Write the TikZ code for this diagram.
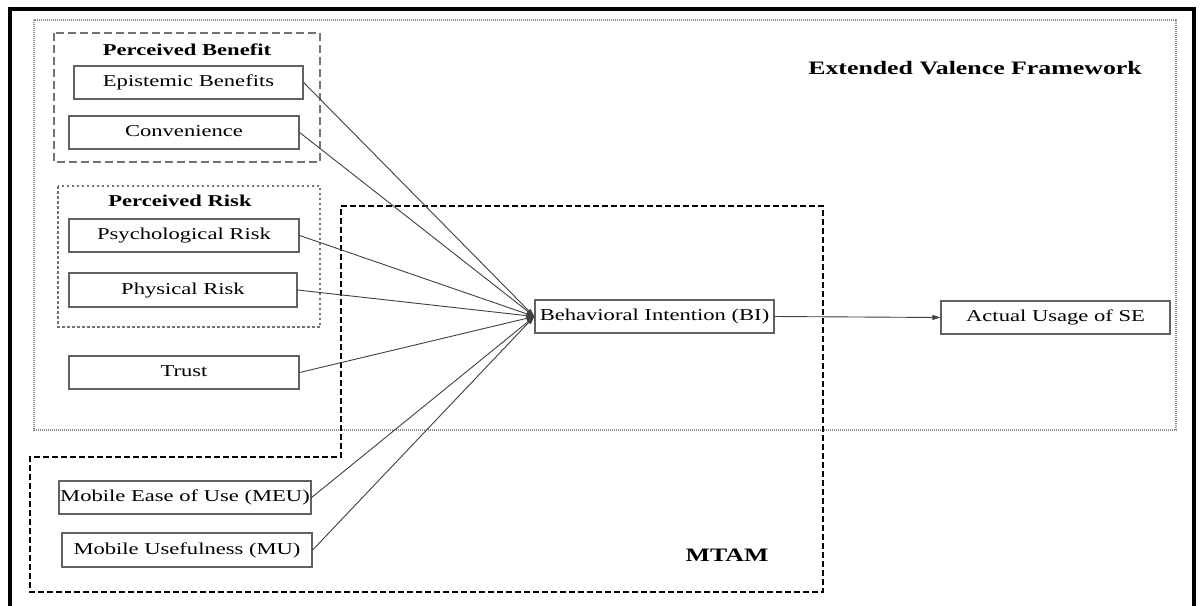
\documentclass[tikz,border=0pt]{standalone}
\usepackage{fontspec}
\setmainfont{Liberation Serif}[FakeStretch=1.36]
\usetikzlibrary{arrows.meta}
\definecolor{boxgray}{gray}{0.38}
\definecolor{linegray}{gray}{0.25}
\definecolor{dashgray}{gray}{0.45}
\definecolor{dotgray}{gray}{0.55}
\tikzset{
  varbox/.style={draw=boxgray, line width=1.3pt, inner sep=0pt, minimum height=33pt,
    font=\fontsize{16.6}{20}\selectfont, text height=11.5pt, text depth=3.5pt},
  grptitle/.style={anchor=base, inner sep=0pt, font=\fontsize{16.6}{20}\selectfont\bfseries},
  bigtitle/.style={anchor=base, inner sep=0pt, font=\fontsize{19}{22}\selectfont\bfseries},
  link/.style={draw=linegray, line width=0.9pt, -{Triangle[length=8pt,width=5pt]}},
  pbframe/.style={draw=dashgray, line width=1.5pt, dash pattern=on 8pt off 4pt},
  prframe/.style={draw=dashgray, line width=1.5pt, dash pattern=on 2.5pt off 2.5pt},
  evframe/.style={draw=dotgray, line width=1.2pt, dash pattern=on 1.2pt off 0.8pt},
  mtframe/.style={draw=black, line width=2pt, dash pattern=on 6pt off 3pt},
  outerframe/.style={draw=black, line width=4pt}
}
\begin{document}
\begin{tikzpicture}[x=1pt, y=-1pt]
\useasboundingbox (0,0) rectangle (1201,605);
\clip (0,0) rectangle (1201,605);
\fill[white] (0,0) rectangle (1201,605);
% outer frame
\draw[outerframe] (10,620) -- (10,9) -- (1194,9) -- (1194,620);
% group frames
\draw[evframe] (34,20) rectangle (1176,430);
\draw[pbframe] (54,33) rectangle (320,162);
\draw[prframe] (58,186) rectangle (320,327);
\draw[mtframe] (341,206) -- (823,206) -- (823,592) -- (30,592) -- (30,457) -- (341,457) -- cycle;
% titles
\node[grptitle] (tpb) at (187,55) {Perceived Benefit};
\node[grptitle] (tpr) at (180,206) {Perceived Risk};
\node[bigtitle] (tev) at (975,74) {Extended Valence Framework};
\node[bigtitle] (tmt) at (727,561) {MTAM};
% variable boxes
\node[varbox, minimum width=229pt] (epi) at (188.5,82.5) {Epistemic Benefits};
\node[varbox, minimum width=230pt] (con) at (184,132.5) {Convenience};
\node[varbox, minimum width=230pt] (psy) at (184,235.5) {Psychological Risk};
\node[varbox, minimum width=228pt, minimum height=34pt] (phy) at (183,290) {Physical Risk};
\node[varbox, minimum width=230pt] (tru) at (184,372.5) {Trust};
\node[varbox, minimum width=252pt] (meu) at (185,497.5) {Mobile Ease of Use (MEU)};
\node[varbox, minimum width=250pt, minimum height=34pt] (mu) at (187,550) {Mobile Usefulness (MU)};
\node[varbox, minimum width=239pt] (bi) at (654.5,316.5) {Behavioral Intention (BI)};
\node[varbox, minimum width=229pt] (au) at (1055.5,317.5) {Actual Usage of SE};
% links
\foreach \s in {epi,con,psy,phy,tru,meu,mu}
  \draw[link] (\s.east) -- (bi.west);
\draw[link] (bi.east) -- (au.west);
\end{tikzpicture}
\end{document}
